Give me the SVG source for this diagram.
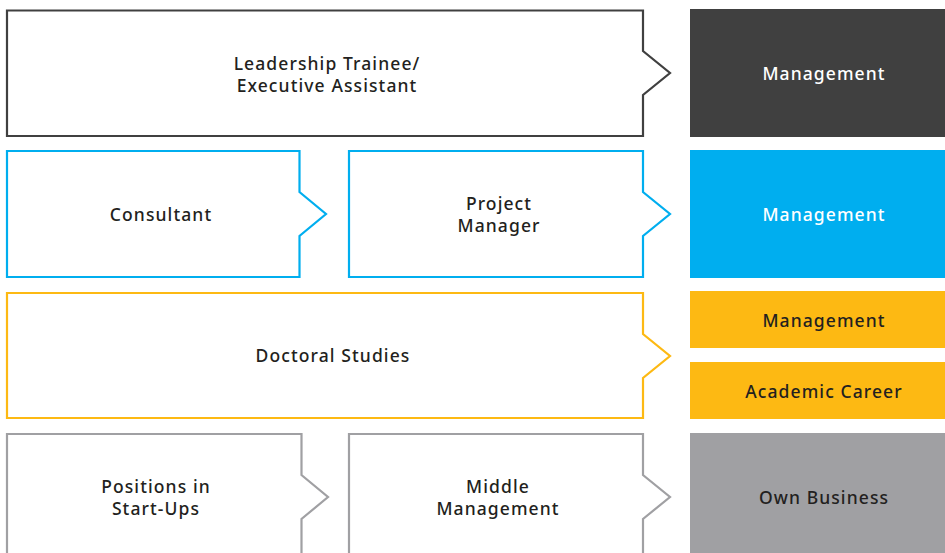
<svg xmlns="http://www.w3.org/2000/svg" width="945" height="553" viewBox="0 0 945 553">
<style>
  .box{fill:#fff;stroke-width:2.2;stroke-linejoin:miter}
  .dk{stroke:#404040}
  .bl{stroke:#00aeef}
  .yl{stroke:#fdb913}
  .gy{stroke:#a0a0a3}
  text{font-family:"Noto Sans","Open Sans","Liberation Sans",sans-serif;font-size:17.5px;font-weight:500;letter-spacing:1.1px;text-anchor:middle;fill:#231f20}
  .w{fill:#fff}
</style>
<rect width="945" height="553" fill="#fff"/>
<g id="row1">
  <g id="leadership">
    <path class="box dk" d="M7,10.5 H643 V51 L670,73 L643,95 V136 H7 Z"/>
    <text x="327" y="70">Leadership Trainee/</text>
    <text x="327" y="92">Executive Assistant</text>
  </g>
  <g id="mgmt1">
    <rect x="690" y="9" width="266" height="128" fill="#404040"/>
    <text class="w" x="824" y="80">Management</text>
  </g>
</g>
<g id="row2">
  <g id="consultant">
    <path class="box bl" d="M7,151 H299.5 V192 L326,214 L299.5,236 V277 H7 Z"/>
    <text x="161" y="221">Consultant</text>
  </g>
  <g id="projectmanager">
    <path class="box bl" d="M349,151 H643 V192 L670,214 L643,236 V277 H349 Z"/>
    <text x="499" y="210">Project</text>
    <text x="499" y="232">Manager</text>
  </g>
  <g id="mgmt2">
    <rect x="690" y="150" width="266" height="128" fill="#00aeef"/>
    <text class="w" x="824" y="221">Management</text>
  </g>
</g>
<g id="row3">
  <g id="doctoral">
    <path class="box yl" d="M7,293 H643 V334 L670,356 L643,378 V418 H7 Z"/>
    <text x="333" y="362">Doctoral Studies</text>
  </g>
  <g id="mgmt3">
    <rect x="690" y="291" width="266" height="57" fill="#fdb913"/>
    <text x="824" y="327">Management</text>
  </g>
  <g id="academic">
    <rect x="690" y="362" width="266" height="57" fill="#fdb913"/>
    <text x="824" y="398">Academic Career</text>
  </g>
</g>
<g id="row4">
  <g id="startups">
    <path class="box gy" d="M7,434 H301.5 V475 L328,497 L301.5,519 V560 H7 Z"/>
    <text x="156" y="493">Positions in</text>
    <text x="156" y="515">Start-Ups</text>
  </g>
  <g id="middlemgmt">
    <path class="box gy" d="M349,434 H643 V475 L670,497 L643,519 V560 H349 Z"/>
    <text x="498" y="493">Middle</text>
    <text x="498" y="515">Management</text>
  </g>
  <g id="ownbusiness">
    <rect x="690" y="433" width="266" height="130" fill="#a0a0a3"/>
    <text x="824" y="504">Own Business</text>
  </g>
</g>
<g id="connectors"></g>
</svg>
